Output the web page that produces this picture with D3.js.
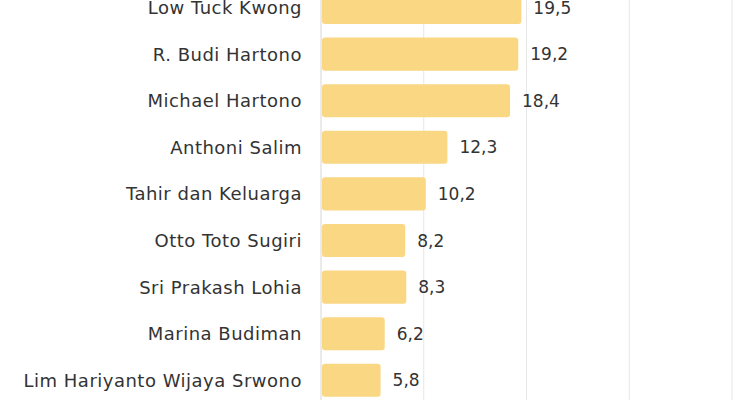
<!DOCTYPE html>
<html>
<head>
<meta charset="utf-8">
<script src="https://cdn.jsdelivr.net/npm/d3@7"></script>
<style>
  body { margin: 0; background: #fff; }
  svg { display: block; font-family: "DejaVu Sans", sans-serif; }
</style>
</head>
<body>
<svg width="750" height="400"></svg>
<script>
// kekayaan (miliar USD) - urutan sesuai gambar
const names = [
  "Low Tuck Kwong",
  "R. Budi Hartono",
  "Michael Hartono",
  "Anthoni Salim",
  "Tahir dan Keluarga",
  "Otto Toto Sugiri",
  "Sri Prakash Lohia",
  "Marina Budiman",
  "Lim Hariyanto Wijaya Srwono"
]
const values = [19.5, 19.2, 18.4, 12.3, 10.2, 8.2, 8.3, 6.2, 5.8]
const ticks = [0, 10, 20, 30, 40]

const svg = d3.select("svg")

const x = d3.scaleLinear().domain([0, 40]).range([321, 732])
const y = d3.scaleBand()
	.domain(names)
	.range([-15.8, 403.6])
	.paddingInner(0.29)
	.paddingOuter(0.145)

// gridlines
svg.append("g")
	.selectAll("line")
	.data(ticks)
	.join("line")
	  .attr("x1", d => x(d))
	  .attr("x2", d => x(d))
	  .attr("y1", 0)
	  .attr("y2", 400)
	  .attr("stroke", d => d === 0 ? "#d6d6d6" : "#e6e6e6")
	  .attr("stroke-width", 1)

svg.append("g")
	.selectAll("rect")
	.data(values)
	.join("rect")
	  .attr("x", x(0) + 1)
	  .attr("y", (d, i) => y(names[i]))
	  .attr("width", d => x(d) - x(0) - 1)
	  .attr("height", y.bandwidth())
	  .attr("rx", 3)
	  .attr("fill", "#fad782")

// category labels
svg.append("g")
	.selectAll("text")
	.data(names)
	.join("text")
	  .attr("x", 302)
	  .attr("y", d => y(d) + y.bandwidth() / 2)
	  .attr("dy", "0.36em")
	  .attr("text-anchor", "end")
	  .attr("font-size", 18)
	  .attr("letter-spacing", 0.5)
	  .attr("fill", "#333")
	  .text(d => d)

// value labels
svg.append("g")
	.selectAll("text")
	.data(values)
	.join("text")
	  .attr("x", d => x(d) + 12)
	  .attr("y", (d, i) => y(names[i]) + y.bandwidth() / 2)
	  .attr("dy", "0.36em")
	  .attr("font-size", 17)
	  .attr("fill", "#333")
	  .text(d => d3.format(".1f")(d).replace(".", ","))
</script>
</body>
</html>
